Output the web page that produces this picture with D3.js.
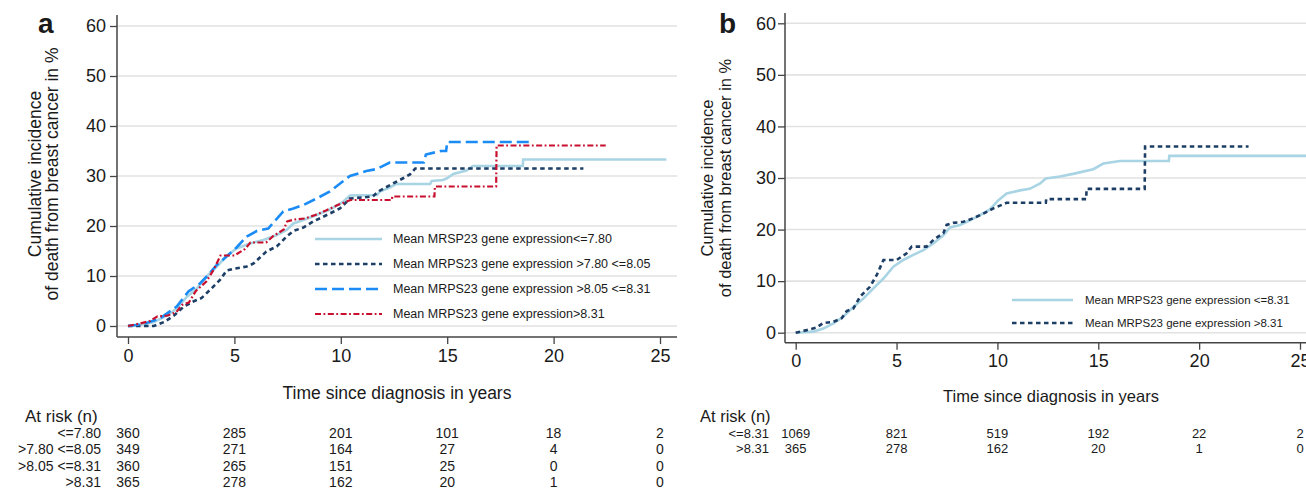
<!DOCTYPE html>
<html><head><meta charset="utf-8">
<script src="https://cdn.jsdelivr.net/npm/d3@7"></script>
<style>
html,body{margin:0;padding:0;background:#fff;}
text{font-family:"Liberation Sans",Arial,Helvetica,sans-serif;fill:#1a1a1a;}
</style></head>
<body><svg id="c" width="1306" height="490"></svg>
<script>
// ---------- DATA ----------
const xTicks = [0, 5, 10, 15, 20, 25];
const yTicks = [0, 10, 20, 30, 40, 50, 60];

// Panel a groups (time in years, cumulative incidence in %)
const lowT  = [0,0.56,1.22,1.85,2.29,2.76,3.23,3.7,4.17,4.64,5.1,5.73,6.36,6.99,7.46,7.77,8.24,8.86,9.49,10.12,10.43,11.7,11.84,12.3,12.6,14.2,14.27,14.8,14.97,15.29,15.9,16.2,18.55,18.57,25.3];
const lowV  = [0,0.2,0.8,2.1,3.5,5.8,7.5,9.9,11.9,14.0,15.5,16.5,17.2,18.2,19.2,20.5,21.2,22.2,23.3,24.9,26.1,26.2,26.9,27.7,28.4,28.4,29.0,29.2,29.5,30.4,31.1,32.0,32.0,33.3,33.3];

const midLoT = [0,1.22,1.7,2.16,2.63,3.07,3.46,3.85,4.32,4.64,5.03,5.58,5.9,6.5,6.99,7.46,7.77,8.24,8.7,9.34,9.96,10.43,11.5,11.8,12.5,12.95,13.25,13.5,21.4];
const midLoV = [0,0,0.8,2.1,3.9,4.9,5.6,7.2,9.2,11.1,11.5,11.9,12.5,14.9,15.9,17.9,19.0,19.7,20.9,22.2,23.5,25.5,25.9,27.0,28.6,29.6,30.3,31.5,31.5];

const midHiT = [0,0.72,1.5,2.29,2.84,3.38,3.7,4.17,4.79,5.1,5.58,6.05,6.59,7.3,7.77,8.24,8.86,9.49,10.12,10.43,11.2,11.7,12.3,13.9,14.0,14.7,14.95,15.0,19.05];
const midHiV = [0,0.4,1.5,3.9,6.9,8.5,9.9,12.2,14.5,15.7,17.9,19.0,19.5,22.9,23.5,24.2,25.5,26.9,29.0,30.0,31.0,31.4,32.7,32.7,34.3,35.0,35.0,36.8,36.8];

// >8.31 group (same group in both panels)
const hiT = [0,0.55,1.04,1.37,1.87,2.28,2.53,2.86,3.19,3.68,4.02,4.35,5.0,5.5,5.75,6.49,6.83,7.32,7.48,7.81,8.31,8.8,9.3,9.8,10.46,12.4,12.42,14.4,14.42,17.3,17.32,22.45];
const hiV = [0,0.5,1.0,1.9,2.1,2.8,4.2,4.7,7.0,8.9,11.2,14.1,14.1,15.4,16.7,16.7,18.0,19.3,20.9,21.3,21.5,22.2,23.1,24.1,25.2,25.2,25.9,25.9,27.9,27.9,36.1,36.1];

// Panel b pooled <=8.31 group
const poolT = [0,0.87,1.37,1.87,2.36,2.86,3.35,3.85,4.35,4.84,5.33,5.83,6.33,6.82,7.32,7.65,8.15,8.64,9.14,9.63,10.05,10.46,11.12,11.6,12.1,12.4,13.1,13.75,14.75,15.25,16.08,18.5,18.52,25.3];
const poolV = [0,0.2,0.8,1.8,3.1,5.0,6.6,8.6,10.5,12.8,14.1,15.1,16.0,17.3,18.9,20.4,20.9,21.8,22.8,23.9,25.7,27.0,27.6,27.9,28.9,29.9,30.3,30.8,31.7,32.8,33.3,33.3,34.3,34.3];

const legendA = ["Mean MRSP23 gene expression<=7.80","Mean MRPS23 gene expression >7.80 <=8.05","Mean MRPS23 gene expression >8.05 <=8.31","Mean MRPS23 gene expression>8.31"];
const legendB = ["Mean MRPS23 gene expression <=8.31","Mean MRPS23 gene expression >8.31"];

const riskLabelsA = ["<=7.80", ">7.80 <=8.05", ">8.05 <=8.31", ">8.31"];
const riskA = [[360,285,201,101,18,2],[349,271,164,27,4,0],[360,265,151,25,0,0],[365,278,162,20,1,0]];
const riskLabelsB = ["<=8.31", ">8.31"];
const riskB = [[1069,821,519,192,22,2],[365,278,162,20,1,0]];

// ---------- STYLES ----------
const st = {
  low:   {color:"#a8d4e4", dash:null,       w:2.6},
  navy:  {color:"#1d3e66", dash:"4.5,3.5",  w:2.6},
  blue:  {color:"#1b8cf5", dash:"12,5",     w:2.6},
  red:   {color:"#c8102e", dash:"6,2.5,1.8,2.5", w:2.2}
};

const svg = d3.select("#c");
svg.append("rect").attr("width",1306).attr("height",490).attr("fill","#fff");
const FONT = '"Liberation Sans",Arial,Helvetica,sans-serif';

function toPts(T,V){ return T.map((t,i)=>[t,V[i]]); }

function panel(cfg){
  const x = d3.scaleLinear().domain([0,25]).range(cfg.xr);
  const y = d3.scaleLinear().domain([0,60]).range(cfg.yr);
  const g = svg.append("g");
  // gridlines
  g.selectAll("line.grid").data(yTicks).join("line")
    .attr("x1",cfg.axX).attr("x2",cfg.gridEnd)
    .attr("y1",d=>y(d)).attr("y2",d=>y(d))
    .attr("stroke","#e2e2e2").attr("stroke-width",1.6);
  // y axis ticks
  const ya = d3.axisLeft(y).tickValues(yTicks).tickSize(7).tickPadding(cfg.yPad).tickFormat(d3.format("d"));
  const yg = g.append("g").attr("transform",`translate(${cfg.axX},0)`).call(ya);
  yg.select(".domain").remove();
  yg.selectAll("line").attr("stroke","#444").attr("stroke-width",1.3);
  yg.selectAll("text").attr("font-family",FONT).attr("font-size",cfg.tickFs).attr("fill","#1a1a1a");
  // x axis ticks
  const xa = d3.axisBottom(x).tickValues(xTicks).tickSize(7).tickPadding(cfg.xPad).tickFormat(d3.format("d"));
  const xg = g.append("g").attr("transform",`translate(0,${cfg.axY})`).call(xa);
  xg.select(".domain").remove();
  xg.selectAll("line").attr("stroke","#444").attr("stroke-width",1.3);
  xg.selectAll("text").attr("font-family",FONT).attr("font-size",cfg.tickFs).attr("fill","#1a1a1a");
  // axis lines
  g.append("line").attr("x1",cfg.axX).attr("x2",cfg.axX).attr("y1",cfg.axTop).attr("y2",cfg.axY)
    .attr("stroke","#444").attr("stroke-width",1.5);
  g.append("line").attr("x1",cfg.axX).attr("x2",cfg.axRight).attr("y1",cfg.axY).attr("y2",cfg.axY)
    .attr("stroke","#444").attr("stroke-width",1.5);
  // curves
  const line = d3.line().x(d=>x(d[0])).y(d=>y(d[1])).curve(d3.curveLinear);
  cfg.series.forEach(s=>{
    g.append("path").attr("d",line(toPts(s.t,s.v))).attr("fill","none")
      .attr("stroke",s.st.color).attr("stroke-width",s.st.w)
      .attr("stroke-dasharray",s.st.dash).attr("stroke-linejoin","miter");
  });
  // legend
  cfg.series.forEach((s,i)=>{
    const ly = cfg.legY[i];
    g.append("line").attr("x1",cfg.legX1).attr("x2",cfg.legX2).attr("y1",ly).attr("y2",ly)
      .attr("stroke",s.st.color).attr("stroke-width",s.st.w).attr("stroke-dasharray",s.st.dash);
    g.append("text").attr("x",cfg.legTx).attr("y",ly).attr("dy","0.35em")
      .attr("font-size",cfg.legFs).text(cfg.legend[i]);
  });
  // y title
  const yt = g.append("g");
  yt.append("text").attr("transform",`translate(${cfg.yt1},${cfg.ytc}) rotate(-90)`)
    .attr("text-anchor","middle").attr("dy","0.35em").attr("font-size",cfg.ytFs).text("Cumulative incidence");
  yt.append("text").attr("transform",`translate(${cfg.yt2},${cfg.ytc}) rotate(-90)`)
    .attr("text-anchor","middle").attr("dy","0.35em").attr("font-size",cfg.ytFs).text("of death from breast cancer in %");
  // x title
  g.append("text").attr("x",cfg.xtX).attr("y",cfg.xtY).attr("dy","0.35em").attr("text-anchor","middle")
    .attr("font-size",cfg.xtFs).text("Time since diagnosis in years");
  // panel letter
  g.append("text").attr("x",cfg.letX).attr("y",33).attr("font-size",28).attr("font-weight","bold")
    .attr("fill","#000").text(cfg.letter);
  // at risk table
  g.append("text").attr("x",cfg.arX).attr("y",cfg.arY).attr("dy","0.35em").attr("font-size",cfg.arFs).text("At risk (n)");
  cfg.riskLabels.forEach((lab,i)=>{
    const ry = cfg.rowY[i];
    g.append("text").attr("x",cfg.rlX).attr("y",ry).attr("dy","0.35em").attr("text-anchor","end")
      .attr("font-size",cfg.rowFs).text(lab);
    g.selectAll(null).data(cfg.risk[i]).join("text")
      .attr("x",(d,j)=>x(xTicks[j])).attr("y",ry).attr("dy","0.35em").attr("text-anchor","middle")
      .attr("font-size",cfg.rowFs).text(d=>d);
  });
}

panel({
  xr:[128,660], yr:[326,26], axX:117, axY:337, axTop:15, axRight:677, gridEnd:677,
  yPad:4, xPad:5.5, tickFs:18,
  series:[
    {t:lowT,v:lowV,st:st.low},
    {t:midLoT,v:midLoV,st:st.navy},
    {t:midHiT,v:midHiV,st:st.blue},
    {t:hiT,v:hiV,st:st.red}
  ],
  legend:legendA, legY:[239,264,289,314], legX1:315, legX2:382, legTx:393, legFs:12.5,
  yt1:35, yt2:52, ytc:174, ytFs:17.5,
  xtX:397, xtY:393, xtFs:17.5,
  letX:38, letter:"a",
  arX:25, arY:416, arFs:17, rlX:101, rowY:[433,449.5,466,482], rowFs:14,
  riskLabels:riskLabelsA, risk:riskA
});

panel({
  xr:[795.7,1300], yr:[332.7,23.3], axX:785, axY:342.7, axTop:13, axRight:1320, gridEnd:1320,
  yPad:2, xPad:5, tickFs:18,
  series:[
    {t:poolT,v:poolV,st:st.low},
    {t:hiT,v:hiV,st:st.navy}
  ],
  legend:legendB, legY:[300,323], legX1:1012, legX2:1073, legTx:1085, legFs:11.5,
  yt1:707, yt2:725, ytc:178, ytFs:16.5,
  xtX:1051, xtY:396, xtFs:16.5,
  letX:719, letter:"b",
  arX:700, arY:416, arFs:16.5, rlX:769, rowY:[433,448], rowFs:13,
  riskLabels:riskLabelsB, risk:riskB
});
</script></body></html>
